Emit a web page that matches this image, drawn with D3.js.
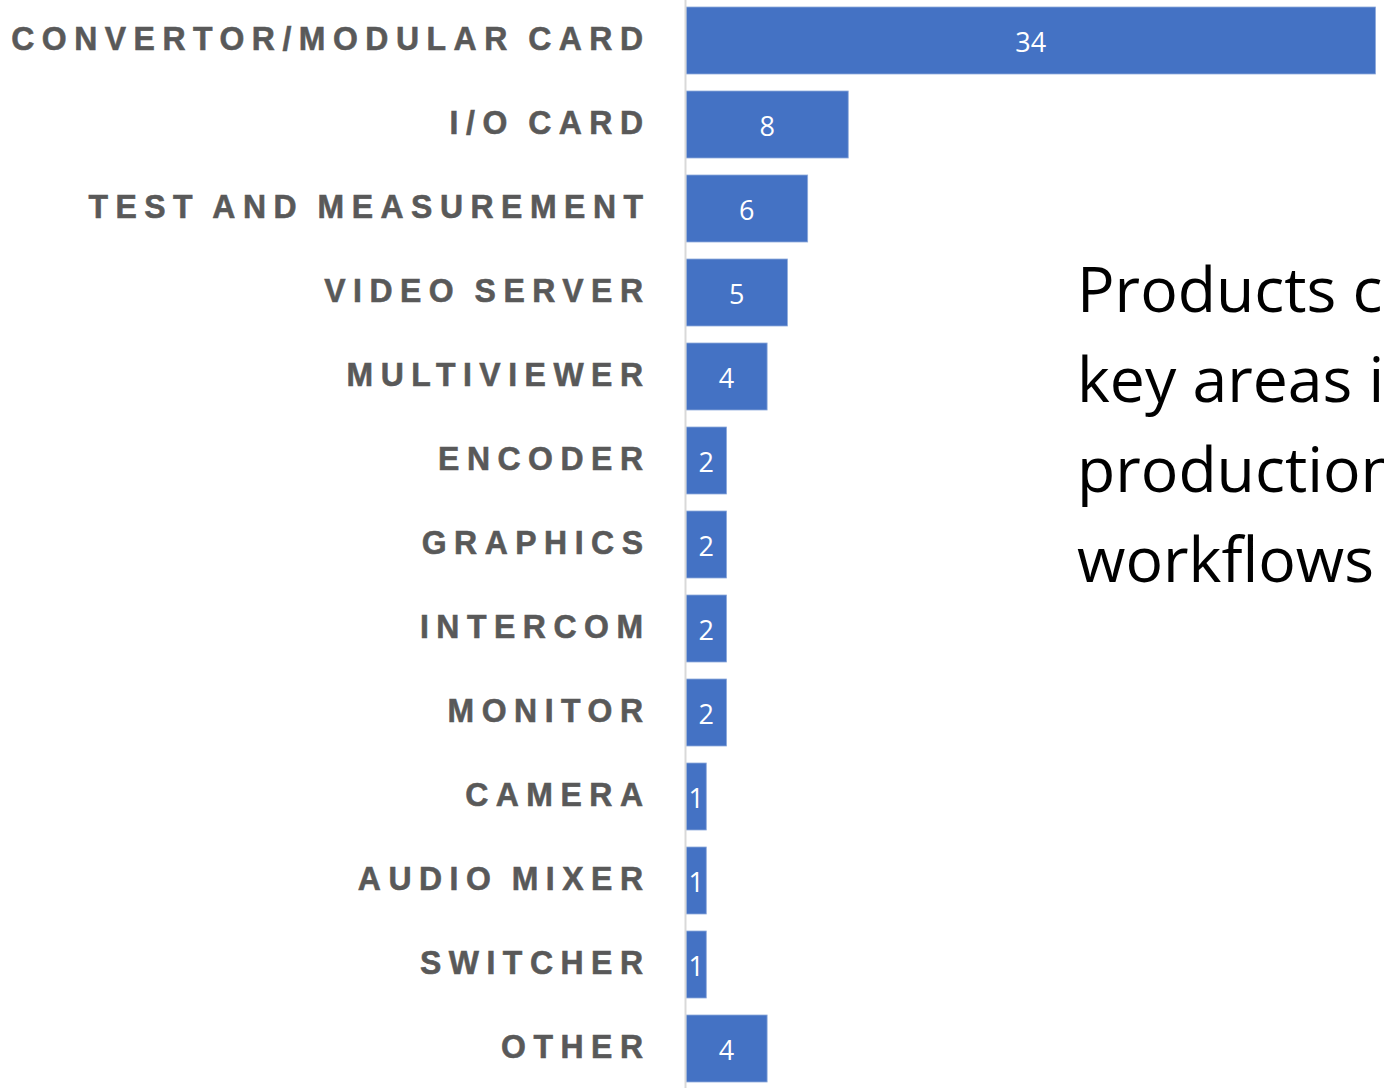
<!DOCTYPE html>
<html>
<head>
<meta charset="utf-8">
<script src="https://cdn.jsdelivr.net/npm/d3@7"></script>
<style>
  html, body { margin: 0; padding: 0; background: #ffffff; overflow: hidden; }
  svg { display: block; }
</style>
</head>
<body>
<svg id="chart" width="1384" height="1088"></svg>
<script>
// Product categories and counts
const categories = [
  "CONVERTOR/MODULAR CARD",
  "I/O CARD",
  "TEST AND MEASUREMENT",
  "VIDEO SERVER",
  "MULTIVIEWER",
  "ENCODER",
  "GRAPHICS",
  "INTERCOM",
  "MONITOR",
  "CAMERA",
  "AUDIO MIXER",
  "SWITCHER",
  "OTHER"
];
const counts = [34, 8, 6, 5, 4, 2, 2, 2, 2, 1, 1, 1, 4];

// Side note text, one line per entry
const noteLines = ["Products cover", "key areas in", "production", "workflows"];

const W = 1384, H = 1088;
const svg = d3.select("#chart");

const data = categories.map((c, i) => ({ category: c, value: counts[i] }));

const x = d3.scaleLinear().domain([0, 34]).range([686, 1375.5]);
const y = d3.scaleBand()
  .domain(categories)
  .range([-1.5, 1090.5])
  .paddingInner(17 / 84)
  .paddingOuter(17 / 168);

// Bars
svg.append("g")
  .selectAll("rect")
  .data(data)
  .join("rect")
  .attr("x", x(0))
  .attr("y", d => y(d.category))
  .attr("width", d => x(d.value) - x(0))
  .attr("height", y.bandwidth())
  .attr("fill", "#4472c4")
  .attr("stroke", "#8eaadb")
  .attr("stroke-width", 0.8);

// Category axis: vertical baseline only
const axis = svg.append("g")
  .attr("transform", `translate(${x(0) - 1},0)`)
  .call(d3.axisLeft(y).tickSize(0).tickFormat(""));
axis.select(".domain")
  .attr("stroke", "#d9d9d9")
  .attr("stroke-width", 2);

// Category labels: heavy, slightly condensed, tracked caps
const sx = 0.94;
const tracking = 8;
const labelRight = 643;
svg.append("g")
  .selectAll("text")
  .data(data)
  .join("text")
  .attr("transform", d => `translate(0,${y(d.category) + y.bandwidth() / 2 + 9.5}) scale(${sx},1)`)
  .attr("x", (labelRight + tracking * sx) / sx)
  .attr("text-anchor", "end")
  .attr("font-family", "'Liberation Sans', Arial, sans-serif")
  .attr("font-weight", "bold")
  .attr("font-size", 34)
  .attr("letter-spacing", tracking)
  .attr("word-spacing", -3.2)
  .attr("fill", "#595959")
  .attr("stroke", "#595959")
  .attr("stroke-width", 0.6)
  .text(d => d.category);

// Value labels centred inside bars
svg.append("g")
  .selectAll("text")
  .data(data)
  .join("text")
  .attr("x", d => (x(0) + x(d.value)) / 2)
  .attr("y", d => y(d.category) + y.bandwidth() / 2 + 11)
  .attr("text-anchor", "middle")
  .attr("font-family", "'Open Sans', 'Noto Sans', sans-serif")
  .attr("font-size", 27)
  .attr("fill", "#ffffff")
  .text(d => d.value);

// Side note
svg.append("g")
  .selectAll("text")
  .data(noteLines)
  .join("text")
  .attr("x", 1077)
  .attr("y", (d, i) => 312 + i * 90)
  .attr("font-family", "'Open Sans', 'Noto Sans', sans-serif")
  .attr("font-size", 62.5)
  .attr("fill", "#000000")
  .text(d => d);
</script>
</body>
</html>
